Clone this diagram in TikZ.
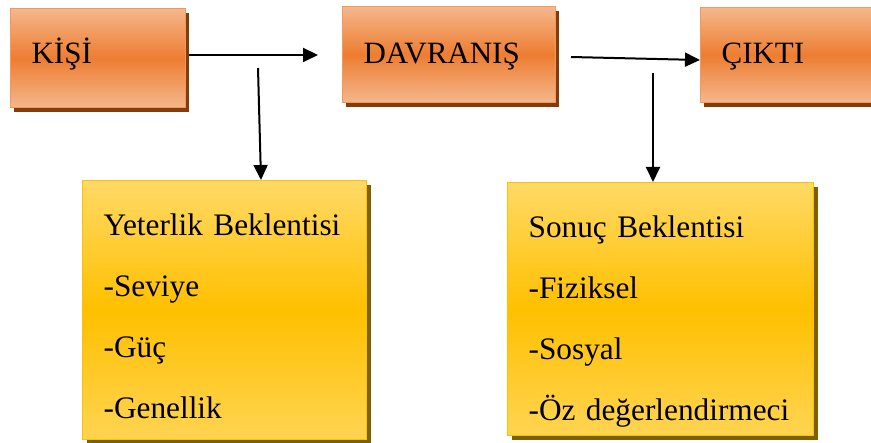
\documentclass[tikz,border=0pt]{standalone}
\usepackage{fontspec}
\setmainfont{Liberation Serif}
\usetikzlibrary{arrows.meta,shadows}
\definecolor{orTop}{HTML}{F5B78C}
\definecolor{orMid}{HTML}{ED7D31}
\definecolor{orBorder}{HTML}{F29A5C}
\definecolor{orShadow}{HTML}{843C0C}
\definecolor{yeTop}{HTML}{FFD966}
\definecolor{yeMid}{HTML}{FFC000}
\definecolor{yeBot}{HTML}{FFD452}
\definecolor{yeBorder}{HTML}{FFC000}
\definecolor{yeShadow}{HTML}{7F6000}
\tikzset{
  orangebox/.style={rectangle, anchor=north west, draw=orBorder, line width=1.2pt,
    top color=orTop, bottom color=orTop, middle color=orMid,
    drop shadow={shadow xshift=3.5pt, shadow yshift=-4pt, fill=orShadow, opacity=1},
    inner ysep=0pt, inner xsep=21pt, align=left,
    font=\fontsize{31}{37}\selectfont},
  yellowbox/.style={rectangle, anchor=north west, draw=yeBorder, line width=1.2pt,
    top color=yeTop, bottom color=yeBot, middle color=yeMid,
    drop shadow={shadow xshift=4pt, shadow yshift=-4pt, fill=yeShadow, opacity=1},
    inner ysep=0pt, inner xsep=21pt, align=left,
    font=\fontsize{31.3}{61}\selectfont},
  conn/.style={line width=2pt, black, -{Triangle[length=15pt,width=14pt]}}
}
\begin{document}
\begin{tikzpicture}[x=1pt,y=-1pt]
\useasboundingbox (0,0) rectangle (871,443);
% top boxes
\node[orangebox, text width=133pt, text height=55pt, text depth=44pt] (kisi) at (10,8) {KİŞİ};
\node[orangebox, text width=171pt, text height=57pt, text depth=39pt] (davranis) at (342,6) {DAVRANIŞ};
\node[orangebox, text width=160pt, text height=56pt, text depth=39pt] (cikti) at (700,7) {ÇIKTI};
% bottom boxes
\node[yellowbox, text width=242pt, text height=55pt, text depth=204pt] (yeterlik) at (82,180)
  {\mbox{Yeterlik Beklentisi}\\\mbox{-Seviye}\\\mbox{-Güç}\\\mbox{-Genellik}};
\node[yellowbox, text width=264pt, text height=55pt, text depth=198pt] (sonuc) at (507,182)
  {\mbox{Sonuç Beklentisi}\\\mbox{-Fiziksel}\\\mbox{-Sosyal}\\\mbox{-Öz değerlendirmeci}};
% connectors
\coordinate (a1e) at (318,55);
\draw[conn] ([xshift=3pt]kisi.east |- a1e) -- (a1e);
\coordinate (a2s) at (571,57);
\coordinate (a2e) at (699,60);
\draw[conn] (a2s) -- (cikti.west |- a2e);
\coordinate (v1s) at (258,68);
\draw[conn] (v1s) -- ([xshift=179pt]yeterlik.north west);
\coordinate (v2s) at (653,73);
\draw[conn] (v2s) -- (v2s |- sonuc.north);
\end{tikzpicture}
\end{document}
